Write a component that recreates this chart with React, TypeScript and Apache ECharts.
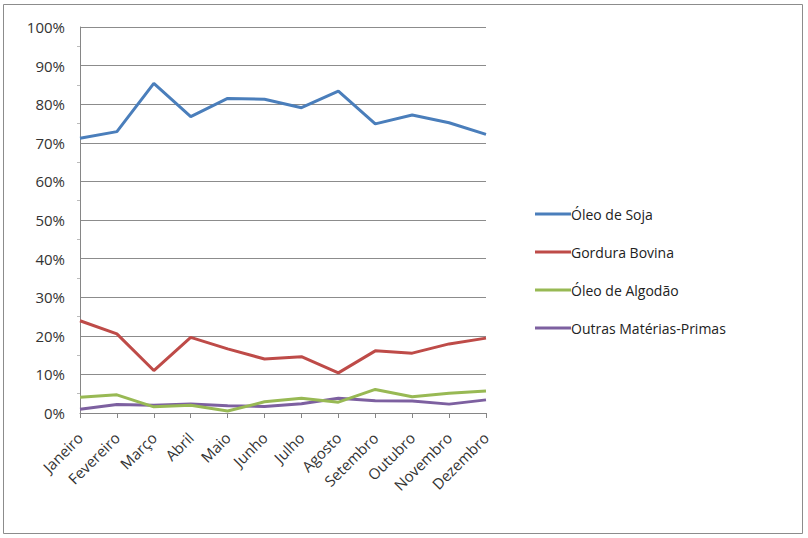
import React, { useEffect, useRef } from "react";
import * as echarts from "echarts";

const months = [
  "Janeiro", "Fevereiro", "Março", "Abril", "Maio", "Junho",
  "Julho", "Agosto", "Setembro", "Outubro", "Novembro", "Dezembro",
];

const oleoSoja = [71.2, 72.9, 85.4, 76.8, 81.5, 81.3, 79.1, 83.4, 74.9, 77.2, 75.2, 72.2];
const gorduraBovina = [23.9, 20.5, 11.0, 19.6, 16.6, 14.0, 14.6, 10.4, 16.1, 15.5, 17.9, 19.4];
const oleoAlgodao = [4.1, 4.7, 1.6, 2.0, 0.5, 2.9, 3.8, 2.8, 6.1, 4.2, 5.1, 5.7];
const outras = [1.0, 2.2, 2.0, 2.3, 1.9, 1.7, 2.4, 3.8, 3.2, 3.1, 2.3, 3.4];

const seriesNames = ["Óleo de Soja", "Gordura Bovina", "Óleo de Algodão", "Outras Matérias-Primas"];
const colors = ["#4a7ebb", "#be4b48", "#98b954", "#7d60a0"];

const FONT = "'Open Sans', 'Liberation Sans', sans-serif";

export default function App() {
  const ref = useRef<HTMLDivElement>(null);

  useEffect(() => {
    document.body.style.margin = "0";
    if (!ref.current) return;
    const chart = echarts.init(ref.current, null, { renderer: "svg" });
    const data = [oleoSoja, gorduraBovina, oleoAlgodao, outras];
    chart.setOption({
      animation: false,
      backgroundColor: "#ffffff",
      graphic: [
        {
          type: "rect",
          shape: { x: 3.5, y: 4.5, width: 799, height: 529 },
          style: { fill: "none", stroke: "#8c8c8c", lineWidth: 1 },
          silent: true,
        },
      ],
      grid: { left: 80, top: 27, width: 406, height: 386, containLabel: false },
      legend: {
        orient: "vertical",
        left: 530,
        top: 202,
        itemGap: 24,
        itemWidth: 36,
        itemHeight: 3,
        icon: "rect",
        textStyle: { fontFamily: FONT, fontSize: 14, color: "#222", padding: [0, 0, 0, -5] },
        data: seriesNames,
      },
      xAxis: {
        type: "category",
        data: months,
        boundaryGap: false,
        axisLine: { lineStyle: { color: "#868686", width: 1 } },
        axisTick: { show: true, alignWithLabel: true, length: 5, lineStyle: { color: "#868686" } },
        axisLabel: {
          rotate: 45,
          interval: 0,
          fontFamily: FONT,
          fontSize: 15,
          color: "#333",
          margin: 22,
        },
        splitLine: { show: false },
      },
      yAxis: {
        type: "value",
        min: 0,
        max: 100,
        interval: 10,
        axisLine: { show: true, lineStyle: { color: "#868686", width: 1 } },
        axisTick: { show: false },
        minorTick: { show: true, splitNumber: 2, length: 3, lineStyle: { color: "#bbb" } },
        axisLabel: {
          formatter: "{value}%",
          fontFamily: FONT,
          fontSize: 15,
          color: "#333",
          margin: 15,
        },
        splitLine: { show: true, lineStyle: { color: "#8c8c8c", width: 1 } },
      },
      series: seriesNames.map((name, i) => ({
        name,
        type: "line",
        data: data[i],
        symbol: "none",
        smooth: false,
        lineStyle: { color: colors[i], width: 3 },
        itemStyle: { color: colors[i] },
        z: 4 - i,
      })),
    });
    return () => chart.dispose();
  }, []);

  return <div ref={ref} style={{ width: 808, height: 538 }} />;
}
